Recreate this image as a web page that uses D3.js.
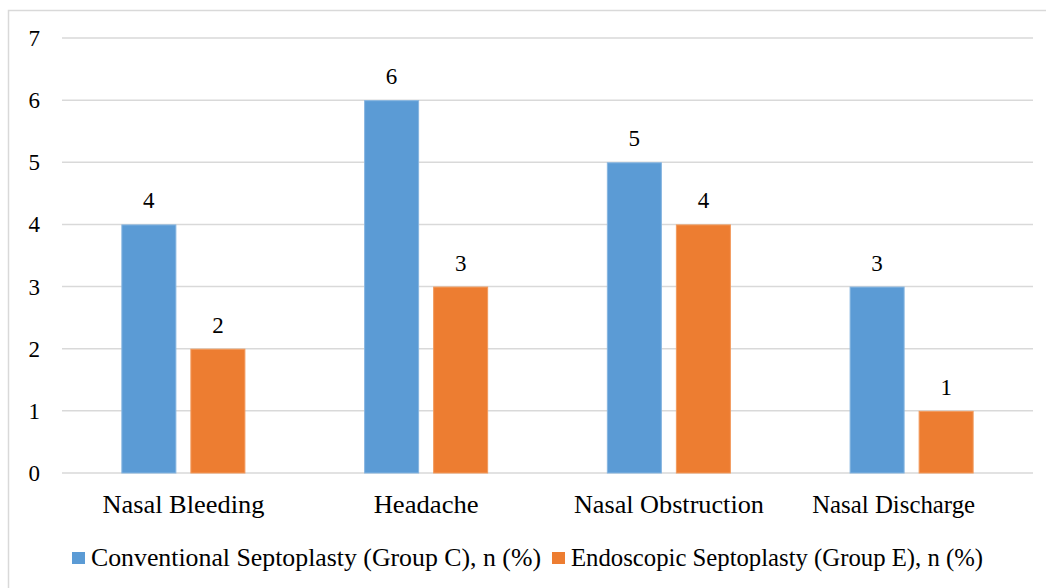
<!DOCTYPE html>
<html>
<head>
<meta charset="utf-8">
<script src="https://cdn.jsdelivr.net/npm/d3@7/dist/d3.min.js"></script>
<style>
  html, body { margin: 0; padding: 0; background: #fff; overflow: hidden; }
  svg { display: block; }
</style>
</head>
<body>
<svg id="chart" width="1046" height="588" font-family="Liberation Serif"></svg>
<script>
// Postoperative complications by procedure
const categories = ["Nasal Bleeding", "Headache", "Nasal Obstruction", "Nasal Discharge"];
const seriesNames = ["Conventional Septoplasty (Group C), n (%)", "Endoscopic Septoplasty (Group E), n (%)"];
const conventional = [4, 6, 5, 3];
const endoscopic = [2, 3, 4, 1];
const yTicks = [0, 1, 2, 3, 4, 5, 6, 7];
const colors = ["#5B9BD5", "#ED7D31"];

const svg = d3.select("#chart");
const FONT = "Liberation Serif";

// chart area frame (runs off the right and bottom edges)
svg.append("rect")
  .attr("x", 8.5).attr("y", 10.5)
  .attr("width", 1100).attr("height", 640)
  .attr("fill", "#fff").attr("stroke", "#d9d9d9").attr("stroke-width", 1.5);

const plot = { left: 62, right: 1033, top: 38, bottom: 473 };

const x = d3.scaleBand().domain(categories).range([plot.left, plot.right]);

// two bars per category: width 55, gap 14
const inner = d3.scaleBand()
  .domain([0, 1])
  .range([0, x.bandwidth()])
  .paddingInner(0.203)
  .paddingOuter(0.86);

const y = d3.scaleLinear().domain([0, 7]).range([plot.bottom, plot.top]);

// gridlines
svg.append("g").selectAll("line")
  .data(yTicks)
  .join("line")
  .attr("x1", plot.left).attr("x2", plot.right)
  .attr("y1", d => y(d)).attr("y2", d => y(d))
  .attr("stroke", "#d9d9d9").attr("stroke-width", 1.5);

// y tick labels
svg.append("g").selectAll("text")
  .data(yTicks)
  .join("text")
  .attr("x", 40)
  .attr("y", d => y(d) + 8)
  .attr("text-anchor", "end")
  .attr("font-family", FONT)
  .attr("font-size", 23)
  .attr("fill", "#000")
  .text(d => d);

const series = [conventional, endoscopic];

const groups = svg.append("g").selectAll("g")
  .data(categories)
  .join("g")
  .attr("transform", d => `translate(${x(d)},0)`);

groups.selectAll("rect")
  .data((d, i) => series.map((s, k) => ({ k, v: s[i] })))
  .join("rect")
  .attr("x", d => inner(d.k) + 0.5)
  .attr("width", inner.bandwidth() - 1)
  .attr("y", d => y(d.v) + 0.5)
  .attr("height", d => y(0) - y(d.v) - 0.5)
  .attr("fill", d => colors[d.k])
  .attr("stroke", d => d.k === 0 ? "#86b5e0" : "#f29a5c")
  .attr("stroke-width", 1);

// value labels
groups.selectAll("text.val")
  .data((d, i) => series.map((s, k) => ({ k, v: s[i] })))
  .join("text")
  .attr("class", "val")
  .attr("x", d => inner(d.k) + inner.bandwidth() / 2)
  .attr("y", d => y(d.v) - 16)
  .attr("text-anchor", "middle")
  .attr("font-family", FONT)
  .attr("font-size", 23)
  .attr("fill", "#000")
  .text(d => d.v);

// category labels
const catWidths = [162, 105, 190, 163];
const catShift = [0, 0, 0, -18];
svg.append("g").selectAll("text")
  .data(categories)
  .join("text")
  .attr("x", (d, i) => x(d) + x.bandwidth() / 2 + catShift[i])
  .attr("y", plot.bottom + 40)
  .attr("text-anchor", "middle")
  .attr("font-family", FONT)
  .attr("font-size", 25)
  .attr("fill", "#000")
  .attr("textLength", (d, i) => catWidths[i])
  .attr("lengthAdjust", "spacingAndGlyphs")
  .text(d => d);

// legend
const legendItems = [
  { x: 72, w: 450, name: seriesNames[0], c: colors[0] },
  { x: 552, w: 412, name: seriesNames[1], c: colors[1] }
];
const lg = svg.append("g").selectAll("g").data(legendItems).join("g")
  .attr("transform", d => `translate(${d.x},552)`);
lg.append("rect")
  .attr("x", 0).attr("y", 0).attr("width", 13).attr("height", 12)
  .attr("fill", d => d.c);
lg.append("text")
  .attr("x", 19).attr("y", 14)
  .attr("font-family", FONT)
  .attr("font-size", 25)
  .attr("fill", "#000")
  .attr("textLength", d => d.w)
  .attr("lengthAdjust", "spacingAndGlyphs")
  .text(d => d.name);
</script>
</body>
</html>
